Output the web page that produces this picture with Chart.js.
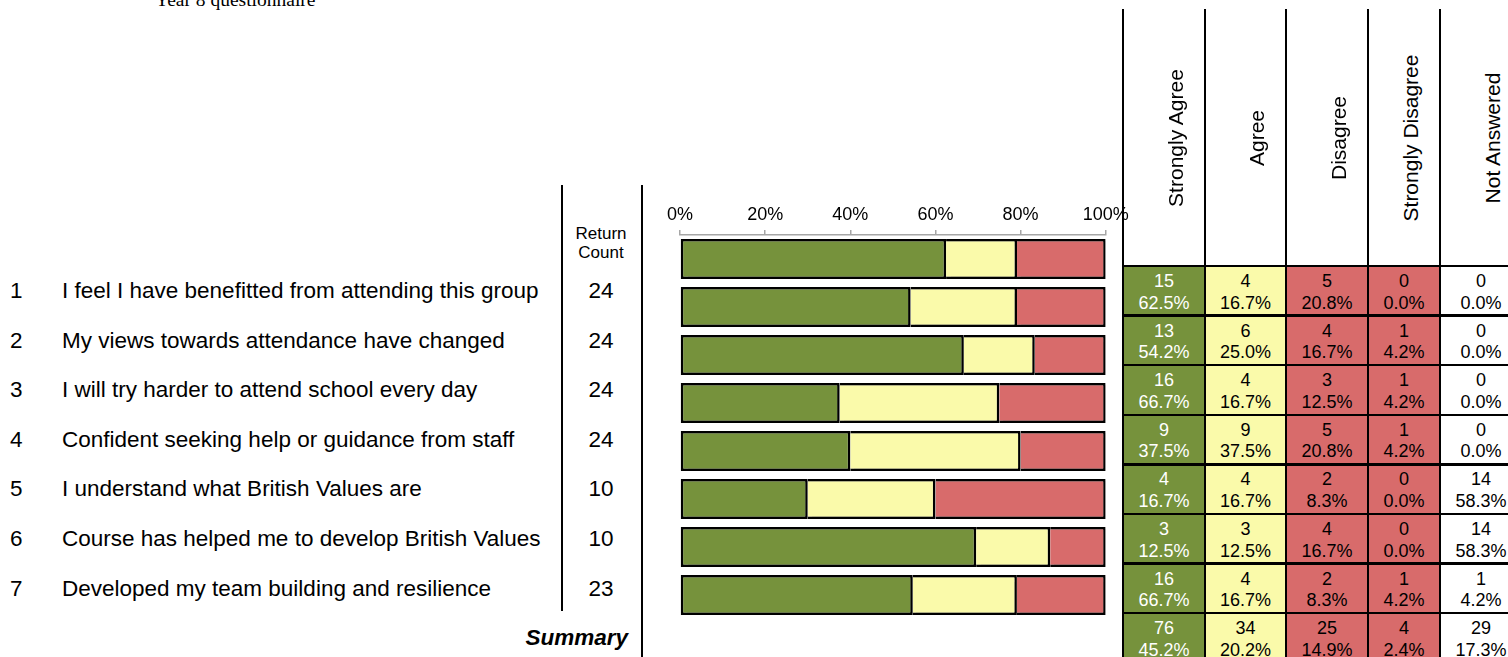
<!DOCTYPE html>
<html>
<head>
<meta charset="utf-8">
<title>Year 8 questionnaire</title>
<script src="https://cdn.jsdelivr.net/npm/chart.js@4.4.1/dist/chart.umd.min.js"></script>
<style>
  html, body { margin: 0; padding: 0; background: #fff; }
  body { width: 1508px; height: 657px; position: relative; overflow: hidden; font-family: 'Liberation Sans', Arial, sans-serif; color: #000; }
  .abs { position: absolute; white-space: nowrap; }
  .title { font-family: 'Liberation Serif', 'Times New Roman', serif; font-size: 19.5px; line-height: 19.5px; }
  .q { font-size: 22.5px; }
  .line { position: absolute; background: #000; }
  .cell { position: absolute; text-align: center; font-size: 18px; line-height: 21.5px; }
  .head { font-size: 21px; line-height: 21px; transform: translate(-50%, -50%) rotate(-90deg); }
  #chartBox { position: absolute; left: 650px; top: 190px; width: 520px; height: 440px; }
</style>
</head>
<body>
<div class="abs title" style="left:155px; top:-10px;">Year 8 questionnaire</div>
<div id="chartBox"><canvas id="chart" width="520" height="440"></canvas></div>
<div id="sheet"></div>

<script>
const questions = [
  'I feel I have benefitted from attending this group',
  'My views towards attendance have changed',
  'I will try harder to attend school every day',
  'Confident seeking help or guidance from staff',
  'I understand what British Values are',
  'Course has helped me to develop British Values',
  'Developed my team building and resilience'
];
const returnCount = [24, 24, 24, 24, 10, 10, 23];
const rowLabels = ['1', '2', '3', '4', '5', '6', '7', 'Summary'];
const answerLabels = ['Strongly Agree', 'Agree', 'Disagree', 'Strongly Disagree', 'Not Answered'];

const stronglyAgree    = [15, 13, 16, 9, 4, 3, 16, 76];
const agree            = [4, 6, 4, 9, 4, 3, 4, 34];
const disagree         = [5, 4, 3, 5, 2, 4, 2, 25];
const stronglyDisagree = [0, 1, 1, 1, 0, 0, 1, 4];
const notAnswered      = [0, 0, 0, 0, 14, 14, 1, 29];

const tickLabels = ['0%', '20%', '40%', '60%', '80%', '100%'];

const green = '#76923C';
const yellow = '#FAFAAA';
const red = '#D86B6B';

// bars are split over the people who answered, the table over everyone asked
const answered = stronglyAgree.map((v, i) => v + agree[i] + disagree[i] + stronglyDisagree[i]);
const asked = answered.map((v, i) => v + notAnswered[i]);
const share = arr => arr.map((v, i) => v / answered[i] * 100);
// both kinds of disagreement share one red block
const anyDisagree = disagree.map((v, i) => v + stronglyDisagree[i]);

const bw = 2.5;
const side = left => ({ top: bw, bottom: bw, left: left, right: bw });

// soft grey shadow under the bars
const barShadow = {
  id: 'barShadow',
  beforeDatasetsDraw(chart) {
    const ctx = chart.ctx;
    ctx.save();
    ctx.shadowColor = 'rgba(0, 0, 0, 0.22)';
    ctx.shadowBlur = 1.5;
    ctx.shadowOffsetX = 1;
    ctx.shadowOffsetY = 2;
  },
  afterDatasetsDraw(chart) {
    chart.ctx.restore();
  }
};

new Chart(document.getElementById('chart'), {
  type: 'bar',
  data: {
    labels: rowLabels,
    datasets: [
      { label: answerLabels[0], data: share(stronglyAgree), backgroundColor: green, borderWidth: side(bw) },
      { label: answerLabels[1], data: share(agree), backgroundColor: yellow, borderWidth: side(0) },
      { label: 'Disagree / Strongly Disagree', data: share(anyDisagree), backgroundColor: red, borderWidth: side(0) }
    ]
  },
  options: {
    responsive: false,
    animation: false,
    indexAxis: 'y',
    layout: { padding: { left: 30, right: 64.3, top: 0, bottom: 11 } },
    datasets: {
      bar: { borderColor: '#000', borderSkipped: false, inflateAmount: 0, categoryPercentage: 1, barPercentage: 0.83 }
    },
    plugins: { legend: { display: false }, tooltip: { enabled: false } },
    scales: {
      x: {
        position: 'top',
        stacked: true,
        min: 0,
        max: 100,
        afterFit: scale => { scale.height = 45; },
        ticks: {
          stepSize: 20,
          maxRotation: 0,
          autoSkip: false,
          padding: 4,
          color: '#000',
          font: { family: "'Liberation Sans', Arial, sans-serif", size: 18 },
          callback: (v, i) => tickLabels[i]
        },
        grid: { drawOnChartArea: false, tickLength: 5, color: '#A6A6A6', lineWidth: 1.5 },
        border: { color: '#A6A6A6', width: 1.5 }
      },
      y: { stacked: true, display: false }
    }
  },
  plugins: [barShadow]
});

// question list, return counts and the answer table
const sheet = document.getElementById('sheet');
const add = (cls, style, text) => {
  const el = document.createElement('div');
  el.className = cls;
  el.setAttribute('style', style);
  if (text !== undefined) el.textContent = text;
  sheet.appendChild(el);
  return el;
};

const rowTop = 266;
const rowH = 49.6;
const colX = [1123, 1205, 1286, 1368, 1440, 1522];
const fills = [green, yellow, red, red, '#fff'];
const counts = [stronglyAgree, agree, disagree, stronglyDisagree, notAnswered];

questions.forEach((q, i) => {
  const top = rowTop + i * rowH;
  const lh = `top:${top}px; height:${rowH}px; line-height:${rowH}px;`;
  add('abs q', `left:10px; ${lh}`, String(i + 1));
  add('abs q', `left:62px; ${lh}`, q);
  add('abs q', `left:561px; width:80px; text-align:center; ${lh}`, String(returnCount[i]));
});

add('abs', 'left:561px; width:80px; top:223.5px; text-align:center; font-size:17px; line-height:19px;', 'Return');
add('abs', 'left:561px; width:80px; top:242.5px; text-align:center; font-size:17px; line-height:19px;', 'Count');
add('abs q', `right:${1508 - 628}px; top:${rowTop + 7 * rowH}px; height:${rowH}px; line-height:${rowH}px; font-weight:bold; font-style:italic;`, 'Summary');

add('line', 'left:561px; top:185px; width:2px; height:426px;');
add('line', 'left:641px; top:185px; width:2px; height:472px;');

// table body
rowLabels.forEach((r, i) => {
  const top = rowTop + i * rowH;
  counts.forEach((arr, c) => {
    const cell = add('cell', `left:${colX[c]}px; top:${top}px; width:${colX[c + 1] - colX[c]}px; height:${rowH}px; background:${fills[c]}; color:${c === 0 ? '#fff' : '#000'};`);
    const pct = (arr[i] / asked[i] * 100).toFixed(1) + '%';
    cell.innerHTML = `<div style="margin-top:5px">${arr[i]}</div><div>${pct}</div>`;
  });
});

// rotated column headings
answerLabels.forEach((h, c) => {
  add('abs head', `left:${colX[c + 1] - 30.2}px; top:137.5px;`, h);
});

// table rules
colX.forEach(x => add('line', `left:${x - 1.25}px; top:9px; width:2.5px; height:660px;`));
for (let i = 0; i <= 8; i++) {
  add('line', `left:1123px; top:${rowTop + i * rowH - 1.25}px; width:400px; height:2.5px;`);
}
</script>
</body>
</html>
